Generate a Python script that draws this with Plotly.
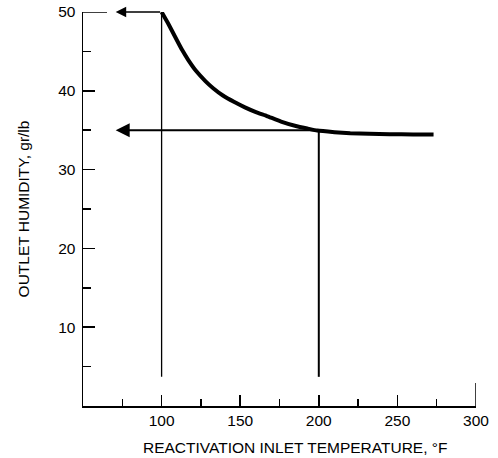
import plotly.graph_objects as go

# Data
curve_x = [100, 104, 109, 113, 117, 122, 128, 133, 139, 146, 153, 160, 167, 176, 186, 193, 199, 210, 220, 232, 245, 260, 273]
curve_y = [50, 48.6, 46.7, 45.2, 43.9, 42.5, 41.2, 40.3, 39.4, 38.6, 37.9, 37.3, 36.8, 36.1, 35.5, 35.2, 34.95, 34.75, 34.62, 34.55, 34.5, 34.47, 34.45]

guide1_x = [100, 100]
guide1_y = [50, 3.7]
guide2_x = [200, 200]
guide2_y = [35, 3.7]

arrow_tip_x = 70.8
arrows = [  # (start_x, y)
    (100, 50),
    (200, 35),
]

x_ticks = [100, 150, 200, 250, 300]
y_ticks = [10, 20, 30, 40, 50]
x_title = "REACTIVATION INLET TEMPERATURE, °F"
y_title = "OUTLET HUMIDITY, gr/lb"

font_family = "Liberation Sans, Arial, sans-serif"

fig = go.Figure()

fig.add_trace(go.Scatter(x=guide1_x, y=guide1_y, mode="lines",
                         line=dict(color="black", width=1.3), cliponaxis=False,
                         hoverinfo="skip"))
fig.add_trace(go.Scatter(x=guide2_x, y=guide2_y, mode="lines",
                         line=dict(color="black", width=2), cliponaxis=False,
                         hoverinfo="skip"))
fig.add_trace(go.Scatter(x=curve_x, y=curve_y, mode="lines",
                         line=dict(color="black", width=4, shape="spline", smoothing=0.4),
                         cliponaxis=False, hoverinfo="skip"))

for i, (sx, yy) in enumerate(arrows):
    fig.add_annotation(x=arrow_tip_x, y=yy, ax=sx, ay=yy, xref="x", yref="y",
                       axref="x", ayref="y", text="", showarrow=True,
                       arrowhead=2, arrowsize=1.4, arrowwidth=1.5 if i == 0 else 2,
                       arrowcolor="black", standoff=0, startstandoff=0)

# x-axis title as an annotation (slightly right of centre, as in the reference)
fig.add_annotation(text=x_title, xref="paper", yref="paper", x=0.5, y=0,
                   xanchor="center", yanchor="middle", xshift=15, yshift=-41,
                   showarrow=False, font=dict(size=15.5, color="black"))

# longer top tick on y axis and taller end tick on x axis
fig.add_shape(type="line", xref="x", yref="y", xsizemode="pixel", xanchor=50,
              x0=0, x1=24, y0=50, y1=50, line=dict(color="black", width=1.5))
fig.add_shape(type="line", xref="x", yref="y", ysizemode="pixel", yanchor=0,
              x0=300, x1=300, y0=0, y1=23, line=dict(color="black", width=1.5))

fig.update_layout(
    width=498, height=458,
    margin=dict(l=83, r=22, t=12, b=52, autoexpand=False),
    paper_bgcolor="white", plot_bgcolor="white",
    showlegend=False,
    font=dict(family=font_family, size=15.5, color="black"),
    xaxis=dict(range=[50, 300], tickvals=x_ticks, ticks="inside", ticklen=11,
               tickwidth=1.5, tickcolor="black", showline=True, linecolor="black",
               linewidth=1.5, showgrid=False, zeroline=False, automargin=False,
               ticklabeloverflow="allow",
               minor=dict(tickvals=[75, 125, 175, 225, 275], ticks="inside",
                          ticklen=7, tickwidth=1.5, tickcolor="black"),
               tickfont=dict(size=15.5)),
    yaxis=dict(range=[0, 50], tickvals=y_ticks, ticks="inside", ticklen=12,
               tickwidth=1.5, tickcolor="black", showline=True, linecolor="black",
               linewidth=1.5, showgrid=False, zeroline=False, automargin=False,
               ticklabeloverflow="allow",
               minor=dict(tickvals=[5, 15, 25, 35, 45], ticks="inside",
                          ticklen=8, tickwidth=1.5, tickcolor="black"),
               ticklabelstandoff=3,
               title=dict(text=y_title, standoff=24, font=dict(size=15.5)),
               tickfont=dict(size=15.5)),
)

fig.write_html("out.html",
               config={"displayModeBar": False, "staticPlot": True},
               post_script="document.body.style.margin='0';document.body.style.overflow='hidden';")
